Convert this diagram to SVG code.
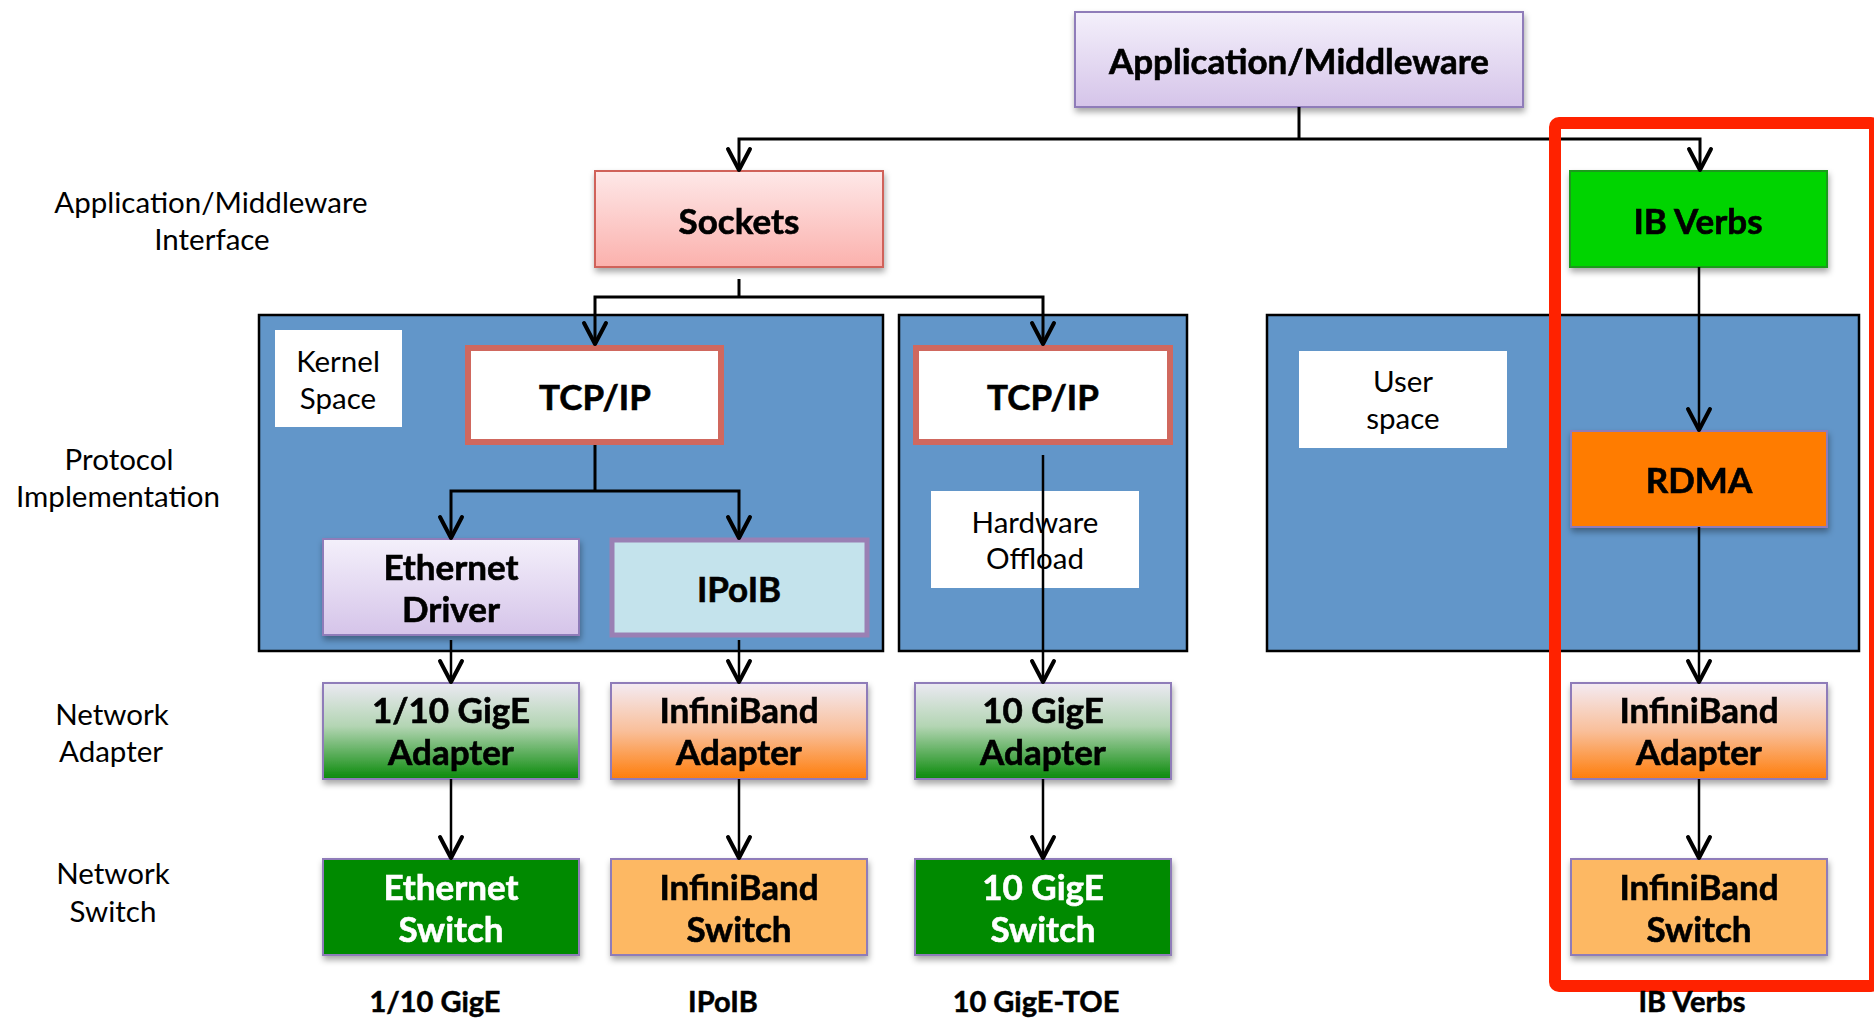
<svg xmlns="http://www.w3.org/2000/svg" width="1874" height="1018" viewBox="0 0 1874 1018">
<style>
.b{font-family:Lato,"Liberation Sans",sans-serif;font-weight:bold;font-size:35px;text-anchor:middle;fill:#000;stroke:#000;stroke-width:0.6}
.w{fill:#fff;stroke:#fff}
.r{font-family:Lato,"Liberation Sans",sans-serif;font-size:29.5px;text-anchor:middle;fill:#000}
.bl{font-family:Lato,"Liberation Sans",sans-serif;font-weight:bold;font-size:29px;text-anchor:middle;fill:#000;stroke:#000;stroke-width:0.5}
.panel{fill:#6296c9;stroke:#000;stroke-width:2.5}
.lbl{fill:#fff}
.pur{stroke:#8f7bb9;stroke-width:2}
.c{fill:none;stroke:#000;stroke-width:2.5}
.cb{fill:none;stroke:#000;stroke-width:3}
</style>
<defs>
<linearGradient id="gPur" x1="0" y1="0" x2="0" y2="1"><stop offset="0" stop-color="#f4f0fb"/><stop offset="1" stop-color="#d5c4e9"/></linearGradient>
<linearGradient id="gPink" x1="0" y1="0" x2="0" y2="1"><stop offset="0" stop-color="#fee8e8"/><stop offset="1" stop-color="#fbb1ad"/></linearGradient>
<linearGradient id="gGreen" x1="0" y1="0" x2="0" y2="1"><stop offset="0" stop-color="#ebe9f2"/><stop offset="0.45" stop-color="#b3d5b3"/><stop offset="1" stop-color="#0a8a0a"/></linearGradient>
<linearGradient id="gOrange" x1="0" y1="0" x2="0" y2="1"><stop offset="0" stop-color="#f4ebf3"/><stop offset="0.5" stop-color="#f9bf9a"/><stop offset="1" stop-color="#ff7d0a"/></linearGradient>
<filter id="sh" x="-10%" y="-10%" width="120%" height="130%"><feDropShadow dx="1" dy="4" stdDeviation="3" flood-color="#000" flood-opacity="0.35"/></filter>
<marker id="ah" markerUnits="userSpaceOnUse" markerWidth="28" markerHeight="28" viewBox="-24 -14 28 28" refX="0" refY="0" orient="auto">
<path d="M-21,-11 L0,0 L-21,11" fill="none" stroke="#000" stroke-width="4" stroke-linejoin="round" stroke-linecap="round"/>
</marker>
</defs>

<g id="side-labels">
<text class="r" x="211" y="213">Application/Middleware</text>
<text class="r" x="212" y="250">Interface</text>
<text class="r" x="119" y="470">Protocol</text>
<text class="r" x="118" y="507">Implementation</text>
<text class="r" x="112" y="725">Network</text>
<text class="r" x="111" y="762">Adapter</text>
<text class="r" x="113" y="884">Network</text>
<text class="r" x="113" y="922">Switch</text>
</g>

<g id="panel-kernel"><rect class="panel" x="259" y="315" width="624" height="336"/></g>
<g id="panel-offload"><rect class="panel" x="899" y="315" width="288" height="336"/></g>
<g id="panel-user"><rect class="panel" x="1267" y="315" width="592" height="336"/></g>

<g id="kernel-space"><rect class="lbl" x="275" y="330" width="127" height="97"/><text class="r" x="338" y="372">Kernel</text><text class="r" x="338" y="409">Space</text></g>
<g id="hardware-offload"><rect class="lbl" x="931" y="491" width="208" height="97"/><text class="r" x="1035" y="533">Hardware</text><text class="r" x="1035" y="569">Offload</text></g>
<g id="user-space"><rect class="lbl" x="1299" y="351" width="208" height="97"/><text class="r" x="1403" y="392">User</text><text class="r" x="1403" y="429">space</text></g>

<g id="app-middleware" filter="url(#sh)"><rect x="1075" y="12" width="448" height="95" fill="url(#gPur)" class="pur"/><text class="b" x="1299" y="74">Application/Middleware</text></g>
<g id="sockets" filter="url(#sh)"><rect x="595" y="171" width="288" height="96" fill="url(#gPink)" stroke="#d0625a" stroke-width="2"/><text class="b" x="739" y="234">Sockets</text></g>
<g id="ib-verbs" filter="url(#sh)"><rect x="1570" y="171" width="257" height="96" fill="#00d400" stroke="#1a9a1a" stroke-width="2"/><text class="b" x="1698" y="234">IB Verbs</text></g>

<g id="tcpip-1"><rect x="468" y="348" width="253" height="94" fill="#fff" stroke="#d0685e" stroke-width="6"/><text class="b" x="595" y="410">TCP/IP</text></g>
<g id="tcpip-2"><rect x="916" y="348" width="254" height="94" fill="#fff" stroke="#d0685e" stroke-width="6"/><text class="b" x="1043" y="410">TCP/IP</text></g>

<g id="ethernet-driver" filter="url(#sh)"><rect x="323" y="539" width="256" height="96" fill="url(#gPur)" class="pur"/><text class="b" x="451" y="580">Ethernet</text><text class="b" x="451" y="622">Driver</text></g>
<g id="ipoib"><rect x="612" y="540" width="255" height="95" fill="#c4e3ec" stroke="#9a80b4" stroke-width="5"/><text class="b" x="739" y="602">IPoIB</text></g>
<g id="rdma" filter="url(#sh)"><rect x="1571" y="431" width="256" height="96" fill="#ff7b00" class="pur"/><text class="b" x="1699" y="493">RDMA</text></g>

<g id="adapter-gige" filter="url(#sh)"><rect x="323" y="683" width="256" height="96" fill="url(#gGreen)" class="pur"/><text class="b" x="451" y="723">1/10 GigE</text><text class="b" x="451" y="765">Adapter</text></g>
<g id="adapter-ib-1" filter="url(#sh)"><rect x="611" y="683" width="256" height="96" fill="url(#gOrange)" class="pur"/><text class="b" x="739" y="723">InfiniBand</text><text class="b" x="739" y="765">Adapter</text></g>
<g id="adapter-10gige" filter="url(#sh)"><rect x="915" y="683" width="256" height="96" fill="url(#gGreen)" class="pur"/><text class="b" x="1043" y="723">10 GigE</text><text class="b" x="1043" y="765">Adapter</text></g>
<g id="adapter-ib-2" filter="url(#sh)"><rect x="1571" y="683" width="256" height="96" fill="url(#gOrange)" class="pur"/><text class="b" x="1699" y="723">InfiniBand</text><text class="b" x="1699" y="765">Adapter</text></g>

<g id="switch-ethernet" filter="url(#sh)"><rect x="323" y="859" width="256" height="96" fill="#008a00" class="pur"/><text class="b w" x="451" y="900">Ethernet</text><text class="b w" x="451" y="942">Switch</text></g>
<g id="switch-ib-1" filter="url(#sh)"><rect x="611" y="859" width="256" height="96" fill="#fdb863" class="pur"/><text class="b" x="739" y="900">InfiniBand</text><text class="b" x="739" y="942">Switch</text></g>
<g id="switch-10gige" filter="url(#sh)"><rect x="915" y="859" width="256" height="96" fill="#008a00" class="pur"/><text class="b w" x="1043" y="900">10 GigE</text><text class="b w" x="1043" y="942">Switch</text></g>
<g id="switch-ib-2" filter="url(#sh)"><rect x="1571" y="859" width="256" height="96" fill="#fdb863" class="pur"/><text class="b" x="1699" y="900">InfiniBand</text><text class="b" x="1699" y="942">Switch</text></g>

<g id="connectors">
<path class="cb" d="M1299,107 V139"/>
<path class="cb" d="M1299,139 H739 V170" marker-end="url(#ah)"/>
<path class="cb" d="M1299,139 H1700 V170" marker-end="url(#ah)"/>
<path class="cb" d="M739,279 V297"/>
<path class="cb" d="M739,297 H595 V344" marker-end="url(#ah)"/>
<path class="cb" d="M739,297 H1043 V344" marker-end="url(#ah)"/>
<path class="cb" d="M595,445 V491"/>
<path class="cb" d="M595,491 H451 V538" marker-end="url(#ah)"/>
<path class="cb" d="M595,491 H739 V538" marker-end="url(#ah)"/>
<path class="c" d="M451,640 V682" marker-end="url(#ah)"/>
<path class="c" d="M739,640 V682" marker-end="url(#ah)"/>
<path class="c" d="M1043,455 V682" marker-end="url(#ah)"/>
<path class="c" d="M1699,267 V430" marker-end="url(#ah)"/>
<path class="c" d="M1699,527 V682" marker-end="url(#ah)"/>
<path class="c" d="M451,779 V858" marker-end="url(#ah)"/>
<path class="c" d="M739,779 V858" marker-end="url(#ah)"/>
<path class="c" d="M1043,779 V858" marker-end="url(#ah)"/>
<path class="c" d="M1699,779 V858" marker-end="url(#ah)"/>
</g>

<g id="ib-verbs-highlight"><rect x="1555" y="123" width="320" height="863" rx="4" fill="none" stroke="#ff2200" stroke-width="12"/></g>

<g id="bottom-labels">
<text class="bl" x="435" y="1012">1/10 GigE</text>
<text class="bl" x="723" y="1012">IPoIB</text>
<text class="bl" x="1036" y="1012">10 GigE-TOE</text>
<text class="bl" x="1692" y="1012">IB Verbs</text>
</g>
</svg>
